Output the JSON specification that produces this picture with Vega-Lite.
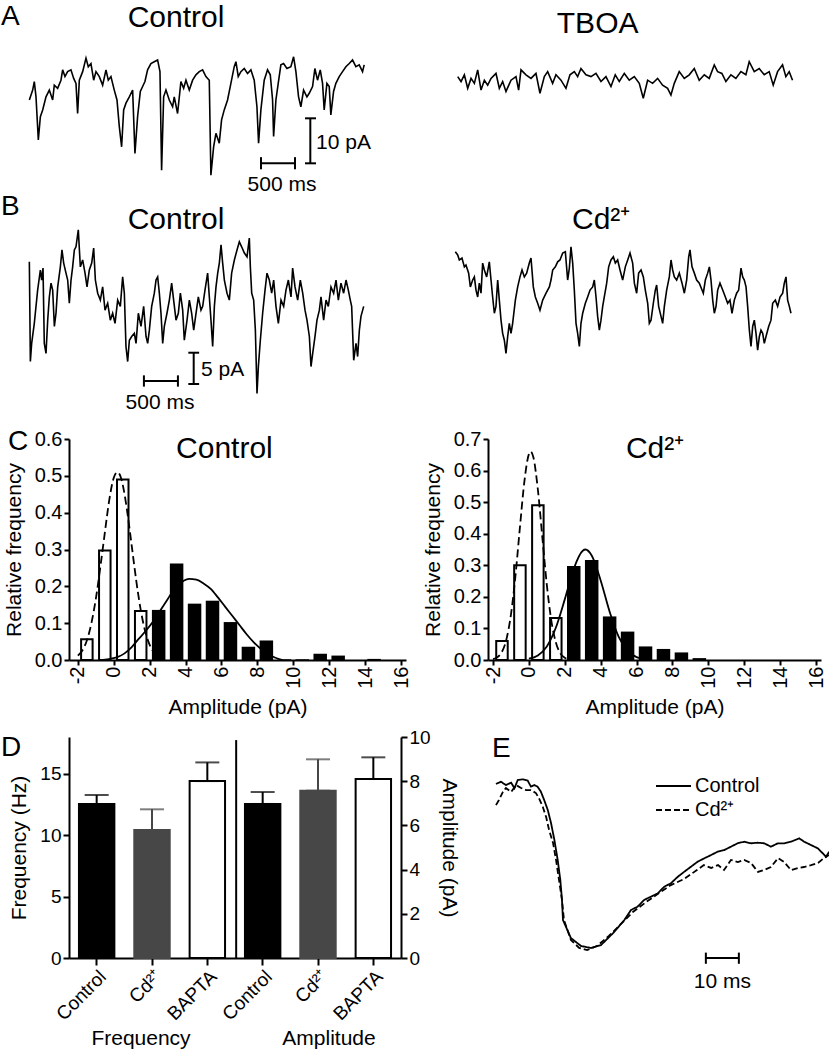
{
  "$schema": "https://vega.github.io/schema/vega-lite/v6.json",
  "padding": 0,
  "background": "white",
  "columns": 4,
  "align": "each",
  "bounds": "flush",
  "spacing": 0,
  "config": {
    "view": {"stroke": null},
    "font": "Liberation Sans",
    "axis": {"domainColor": "black", "domainWidth": 2, "tickColor": "black", "tickWidth": 2, "tickSize": 6, "labelColor": "black", "titleColor": "black", "labelFont": "Liberation Sans", "titleFont": "Liberation Sans", "titleFontWeight": "normal", "grid": false, "labelFontSize": 20, "titleFontSize": 21},
    "text": {"font": "Liberation Sans", "color": "black"},
    "legend": {"orient": "none", "legendX": 662, "legendY": 775.5, "padding": 0, "labelFont": "Liberation Sans", "labelFontSize": 20, "labelColor": "black", "labelOffset": 11, "rowPadding": 3, "symbolType": "M-1.842,0H1.842", "symbolSize": 361, "symbolStrokeWidth": 2, "symbolStrokeColor": "black"}
  },
  "datasets": {
    "a1": [{"t":5,"i":-10.0},{"t":54,"i":-7.8},{"t":78,"i":-5.9},{"t":103,"i":-9.3},{"t":137,"i":-18.9},{"t":167,"i":-13.7},{"t":201,"i":-12.2},{"t":250,"i":-9.3},{"t":299,"i":-7.8},{"t":348,"i":-10.0},{"t":372,"i":-6.7},{"t":421,"i":-7.4},{"t":470,"i":-5.6},{"t":495,"i":-3.3},{"t":529,"i":-4.8},{"t":568,"i":-3.7},{"t":617,"i":-3.3},{"t":657,"i":-5.2},{"t":691,"i":-6.3},{"t":715,"i":-13.0},{"t":740,"i":-5.6},{"t":789,"i":-3.7},{"t":838,"i":-0.7},{"t":872,"i":-2.6},{"t":911,"i":-1.9},{"t":951,"i":-5.6},{"t":985,"i":-3.7},{"t":1034,"i":-4.8},{"t":1083,"i":-6.7},{"t":1132,"i":-3.3},{"t":1166,"i":-5.6},{"t":1205,"i":-4.8},{"t":1254,"i":-7.8},{"t":1294,"i":-10.0},{"t":1328,"i":-15.9},{"t":1362,"i":-20.4},{"t":1392,"i":-12.2},{"t":1426,"i":-10.7},{"t":1475,"i":-9.3},{"t":1524,"i":-7.8},{"t":1558,"i":-21.9},{"t":1597,"i":-13.7},{"t":1637,"i":-8.1},{"t":1671,"i":-7.0},{"t":1705,"i":-5.9},{"t":1744,"i":-3.3},{"t":1793,"i":-1.9},{"t":1842,"i":-1.5},{"t":1891,"i":-1.1},{"t":1926,"i":-3.7},{"t":1950,"i":-25.6},{"t":1980,"i":-9.3},{"t":2014,"i":-7.8},{"t":2063,"i":-10.0},{"t":2112,"i":-11.5},{"t":2136,"i":-9.3},{"t":2185,"i":-13.0},{"t":2234,"i":-5.9},{"t":2274,"i":-7.4},{"t":2308,"i":-5.6},{"t":2357,"i":-7.8},{"t":2406,"i":-5.6},{"t":2455,"i":-4.4},{"t":2504,"i":-3.7},{"t":2553,"i":-3.3},{"t":2602,"i":-4.8},{"t":2651,"i":-5.6},{"t":2675,"i":-26.7},{"t":2715,"i":-20.4},{"t":2749,"i":-17.4},{"t":2798,"i":-19.6},{"t":2832,"i":-14.4},{"t":2871,"i":-12.2},{"t":2920,"i":-10.0},{"t":2969,"i":-6.3},{"t":3018,"i":-2.6},{"t":3043,"i":-1.5},{"t":3077,"i":-4.8},{"t":3116,"i":-3.7},{"t":3165,"i":-3.0},{"t":3214,"i":-4.1},{"t":3263,"i":-3.3},{"t":3312,"i":-5.6},{"t":3352,"i":-11.5},{"t":3376,"i":-19.6},{"t":3410,"i":-12.2},{"t":3459,"i":-5.6},{"t":3508,"i":-3.3},{"t":3548,"i":-4.4},{"t":3582,"i":-10.0},{"t":3597,"i":-18.1},{"t":3631,"i":-10.0},{"t":3665,"i":-6.3},{"t":3704,"i":-2.2},{"t":3744,"i":-1.9},{"t":3793,"i":-3.0},{"t":3851,"i":-2.6},{"t":3891,"i":-0.4},{"t":3925,"i":-3.7},{"t":3964,"i":-9.3},{"t":3998,"i":-11.5},{"t":4038,"i":-7.8},{"t":4087,"i":-9.3},{"t":4121,"i":-8.5},{"t":4170,"i":-7.0},{"t":4204,"i":-3.0},{"t":4243,"i":-5.6},{"t":4283,"i":-3.3},{"t":4317,"i":-6.3},{"t":4341,"i":-12.2},{"t":4381,"i":-6.3},{"t":4415,"i":-7.0},{"t":4439,"i":-13.3},{"t":4479,"i":-8.1},{"t":4513,"i":-6.3},{"t":4562,"i":-4.8},{"t":4611,"i":-3.7},{"t":4660,"i":-2.6},{"t":4709,"i":-1.9},{"t":4758,"i":-1.1},{"t":4807,"i":-2.6},{"t":4856,"i":-2.2},{"t":4905,"i":-3.7},{"t":4929,"i":-2.2}],
    "a2": [{"t":25,"i":-4.8},{"t":74,"i":-5.9},{"t":123,"i":-4.4},{"t":172,"i":-7.4},{"t":221,"i":-5.2},{"t":270,"i":-6.3},{"t":319,"i":-3.3},{"t":368,"i":-7.8},{"t":417,"i":-5.6},{"t":466,"i":-6.7},{"t":515,"i":-5.2},{"t":588,"i":-4.1},{"t":637,"i":-7.4},{"t":686,"i":-5.9},{"t":735,"i":-8.1},{"t":809,"i":-5.6},{"t":882,"i":-4.8},{"t":921,"i":-7.8},{"t":956,"i":-3.3},{"t":1029,"i":-4.4},{"t":1103,"i":-5.2},{"t":1176,"i":-4.1},{"t":1235,"i":-8.5},{"t":1299,"i":-4.8},{"t":1348,"i":-3.7},{"t":1421,"i":-6.3},{"t":1470,"i":-4.4},{"t":1544,"i":-5.6},{"t":1617,"i":-7.4},{"t":1676,"i":-4.4},{"t":1740,"i":-3.7},{"t":1789,"i":-4.8},{"t":1838,"i":-3.0},{"t":1911,"i":-4.4},{"t":1985,"i":-4.8},{"t":2058,"i":-4.1},{"t":2132,"i":-5.9},{"t":2205,"i":-4.8},{"t":2279,"i":-7.0},{"t":2342,"i":-4.4},{"t":2401,"i":-5.9},{"t":2475,"i":-4.1},{"t":2548,"i":-5.6},{"t":2622,"i":-4.8},{"t":2695,"i":-6.3},{"t":2754,"i":-9.6},{"t":2818,"i":-5.6},{"t":2891,"i":-6.3},{"t":2965,"i":-5.2},{"t":3038,"i":-6.7},{"t":3112,"i":-7.4},{"t":3161,"i":-8.9},{"t":3210,"i":-6.3},{"t":3283,"i":-3.7},{"t":3357,"i":-5.2},{"t":3430,"i":-4.4},{"t":3504,"i":-3.0},{"t":3577,"i":-5.6},{"t":3651,"i":-4.4},{"t":3724,"i":-5.2},{"t":3798,"i":-2.2},{"t":3847,"i":-3.7},{"t":3910,"i":-4.1},{"t":3969,"i":-5.9},{"t":4043,"i":-4.4},{"t":4116,"i":-5.2},{"t":4190,"i":-3.7},{"t":4263,"i":-4.4},{"t":4312,"i":-1.5},{"t":4386,"i":-3.7},{"t":4459,"i":-3.0},{"t":4533,"i":-4.4},{"t":4606,"i":-3.7},{"t":4665,"i":-6.7},{"t":4729,"i":-3.7},{"t":4802,"i":-2.2},{"t":4851,"i":-4.8},{"t":4900,"i":-3.7},{"t":4949,"i":-5.6}],
    "b1": [{"t":5,"i":-5.37},{"t":20,"i":-21.3},{"t":39,"i":-18.4},{"t":78,"i":-15.2},{"t":127,"i":-9.9},{"t":167,"i":-6.7},{"t":186,"i":-8.3},{"t":206,"i":-6.4},{"t":225,"i":-18.4},{"t":250,"i":-20.0},{"t":275,"i":-14.7},{"t":299,"i":-11.0},{"t":324,"i":-8.8},{"t":348,"i":-9.9},{"t":373,"i":-15.7},{"t":397,"i":-13.6},{"t":422,"i":-9.4},{"t":461,"i":-6.2},{"t":485,"i":-3.5},{"t":510,"i":-5.6},{"t":544,"i":-7.2},{"t":569,"i":-8.3},{"t":593,"i":-12.0},{"t":618,"i":-8.3},{"t":642,"i":-6.2},{"t":667,"i":-3.5},{"t":691,"i":-3.0},{"t":725,"i":-0.3},{"t":755,"i":-6.2},{"t":789,"i":-5.1},{"t":824,"i":-7.2},{"t":853,"i":-9.4},{"t":887,"i":-6.7},{"t":922,"i":-5.6},{"t":951,"i":-3.2},{"t":976,"i":-8.3},{"t":1010,"i":-10.4},{"t":1049,"i":-11.5},{"t":1083,"i":-9.4},{"t":1118,"i":-13.1},{"t":1157,"i":-12.0},{"t":1196,"i":-14.7},{"t":1230,"i":-13.6},{"t":1265,"i":-15.2},{"t":1304,"i":-11.5},{"t":1343,"i":-12.5},{"t":1377,"i":-7.8},{"t":1402,"i":-10.4},{"t":1426,"i":-18.9},{"t":1451,"i":-21.3},{"t":1476,"i":-17.9},{"t":1510,"i":-17.3},{"t":1549,"i":-16.8},{"t":1574,"i":-18.4},{"t":1608,"i":-13.6},{"t":1647,"i":-15.7},{"t":1686,"i":-12.5},{"t":1721,"i":-17.3},{"t":1745,"i":-18.4},{"t":1770,"i":-16.3},{"t":1804,"i":-12.5},{"t":1843,"i":-10.4},{"t":1868,"i":-8.3},{"t":1892,"i":-7.8},{"t":1917,"i":-10.4},{"t":1941,"i":-13.6},{"t":1966,"i":-18.4},{"t":1990,"i":-15.7},{"t":2029,"i":-13.6},{"t":2064,"i":-11.5},{"t":2098,"i":-8.8},{"t":2127,"i":-11.5},{"t":2162,"i":-14.7},{"t":2196,"i":-13.6},{"t":2226,"i":-10.4},{"t":2260,"i":-13.1},{"t":2284,"i":-17.9},{"t":2324,"i":-14.7},{"t":2358,"i":-11.5},{"t":2392,"i":-13.6},{"t":2422,"i":-16.3},{"t":2456,"i":-13.6},{"t":2490,"i":-11.0},{"t":2529,"i":-13.1},{"t":2554,"i":-12.5},{"t":2588,"i":-9.9},{"t":2627,"i":-7.2},{"t":2652,"i":-11.0},{"t":2676,"i":-14.7},{"t":2701,"i":-18.9},{"t":2726,"i":-12.5},{"t":2750,"i":-9.4},{"t":2775,"i":-7.2},{"t":2799,"i":-5.6},{"t":2824,"i":-2.7},{"t":2848,"i":-5.6},{"t":2873,"i":-8.3},{"t":2912,"i":-10.4},{"t":2946,"i":-11.5},{"t":2980,"i":-7.2},{"t":3020,"i":-5.1},{"t":3059,"i":-3.5},{"t":3093,"i":-2.2},{"t":3127,"i":-3.0},{"t":3167,"i":-4.0},{"t":3206,"i":-4.6},{"t":3240,"i":-1.6},{"t":3255,"i":-6.2},{"t":3275,"i":-10.4},{"t":3304,"i":-11.5},{"t":3329,"i":-16.3},{"t":3353,"i":-26.4},{"t":3373,"i":-22.1},{"t":3402,"i":-17.9},{"t":3436,"i":-13.6},{"t":3471,"i":-9.9},{"t":3500,"i":-7.2},{"t":3534,"i":-8.3},{"t":3569,"i":-10.4},{"t":3598,"i":-8.3},{"t":3632,"i":-12.5},{"t":3667,"i":-15.2},{"t":3706,"i":-11.5},{"t":3745,"i":-12.5},{"t":3779,"i":-9.9},{"t":3814,"i":-8.3},{"t":3853,"i":-11.0},{"t":3877,"i":-6.4},{"t":3912,"i":-9.4},{"t":3951,"i":-11.5},{"t":3990,"i":-8.3},{"t":4025,"i":-10.4},{"t":4059,"i":-13.1},{"t":4088,"i":-14.7},{"t":4123,"i":-17.3},{"t":4147,"i":-22.1},{"t":4172,"i":-20.0},{"t":4206,"i":-17.3},{"t":4235,"i":-14.7},{"t":4270,"i":-13.1},{"t":4294,"i":-11.0},{"t":4333,"i":-14.7},{"t":4368,"i":-11.5},{"t":4402,"i":-12.5},{"t":4441,"i":-9.4},{"t":4480,"i":-10.4},{"t":4515,"i":-8.3},{"t":4549,"i":-11.5},{"t":4588,"i":-8.8},{"t":4627,"i":-10.4},{"t":4662,"i":-8.3},{"t":4696,"i":-9.9},{"t":4725,"i":-11.5},{"t":4745,"i":-12.5},{"t":4775,"i":-21.1},{"t":4809,"i":-18.4},{"t":4833,"i":-20.5},{"t":4858,"i":-16.3},{"t":4882,"i":-14.1},{"t":4907,"i":-13.1},{"t":4922,"i":-12.5}],
    "b2": [{"t":-10,"i":-3.8},{"t":25,"i":-4.3},{"t":49,"i":-5.1},{"t":88,"i":-4.8},{"t":123,"i":-6.2},{"t":147,"i":-5.9},{"t":186,"i":-7.2},{"t":211,"i":-9.4},{"t":245,"i":-8.3},{"t":270,"i":-7.8},{"t":294,"i":-9.9},{"t":319,"i":-11.0},{"t":343,"i":-8.8},{"t":368,"i":-10.4},{"t":392,"i":-5.6},{"t":417,"i":-6.7},{"t":451,"i":-7.8},{"t":490,"i":-5.4},{"t":515,"i":-8.3},{"t":539,"i":-11.0},{"t":564,"i":-13.6},{"t":588,"i":-12.5},{"t":613,"i":-8.3},{"t":637,"i":-11.5},{"t":662,"i":-14.7},{"t":686,"i":-16.8},{"t":711,"i":-17.9},{"t":735,"i":-20.0},{"t":760,"i":-17.3},{"t":784,"i":-15.2},{"t":809,"i":-16.8},{"t":833,"i":-15.2},{"t":873,"i":-11.5},{"t":907,"i":-9.4},{"t":941,"i":-7.8},{"t":971,"i":-6.7},{"t":1005,"i":-7.8},{"t":1039,"i":-7.2},{"t":1078,"i":-5.6},{"t":1103,"i":-4.8},{"t":1137,"i":-9.4},{"t":1167,"i":-11.0},{"t":1201,"i":-12.0},{"t":1235,"i":-13.1},{"t":1275,"i":-11.5},{"t":1324,"i":-10.4},{"t":1373,"i":-9.4},{"t":1397,"i":-8.3},{"t":1422,"i":-6.7},{"t":1461,"i":-6.2},{"t":1495,"i":-5.4},{"t":1529,"i":-5.1},{"t":1569,"i":-4.0},{"t":1608,"i":-3.8},{"t":1642,"i":-8.3},{"t":1667,"i":-6.4},{"t":1691,"i":-3.0},{"t":1716,"i":-5.6},{"t":1740,"i":-9.9},{"t":1765,"i":-15.2},{"t":1789,"i":-16.8},{"t":1814,"i":-18.9},{"t":1838,"i":-15.2},{"t":1863,"i":-13.6},{"t":1902,"i":-12.0},{"t":1936,"i":-11.0},{"t":1971,"i":-9.9},{"t":2010,"i":-9.4},{"t":2034,"i":-8.3},{"t":2059,"i":-11.0},{"t":2083,"i":-14.1},{"t":2108,"i":-16.3},{"t":2132,"i":-14.7},{"t":2157,"i":-12.5},{"t":2181,"i":-11.0},{"t":2216,"i":-8.8},{"t":2245,"i":-6.2},{"t":2279,"i":-5.1},{"t":2314,"i":-4.6},{"t":2343,"i":-5.6},{"t":2377,"i":-5.1},{"t":2412,"i":-6.7},{"t":2451,"i":-8.3},{"t":2490,"i":-6.2},{"t":2525,"i":-5.1},{"t":2559,"i":-4.0},{"t":2598,"i":-5.6},{"t":2623,"i":-8.8},{"t":2657,"i":-10.4},{"t":2686,"i":-7.2},{"t":2721,"i":-6.7},{"t":2755,"i":-7.8},{"t":2784,"i":-9.9},{"t":2819,"i":-12.0},{"t":2843,"i":-15.2},{"t":2868,"i":-14.7},{"t":2902,"i":-12.0},{"t":2931,"i":-9.9},{"t":2951,"i":-9.1},{"t":2980,"i":-12.5},{"t":3015,"i":-14.1},{"t":3039,"i":-15.2},{"t":3064,"i":-12.5},{"t":3098,"i":-9.9},{"t":3137,"i":-7.8},{"t":3162,"i":-5.1},{"t":3186,"i":-6.7},{"t":3211,"i":-7.8},{"t":3245,"i":-8.3},{"t":3284,"i":-7.2},{"t":3324,"i":-8.8},{"t":3358,"i":-10.4},{"t":3392,"i":-8.3},{"t":3422,"i":-4.6},{"t":3441,"i":-3.5},{"t":3471,"i":-6.2},{"t":3505,"i":-7.2},{"t":3539,"i":-8.3},{"t":3578,"i":-8.8},{"t":3618,"i":-9.9},{"t":3637,"i":-10.4},{"t":3667,"i":-8.3},{"t":3701,"i":-7.2},{"t":3726,"i":-6.2},{"t":3750,"i":-8.3},{"t":3775,"i":-11.5},{"t":3799,"i":-13.6},{"t":3824,"i":-12.5},{"t":3848,"i":-9.9},{"t":3882,"i":-8.8},{"t":3922,"i":-9.9},{"t":3961,"i":-11.0},{"t":3995,"i":-12.0},{"t":4029,"i":-11.5},{"t":4059,"i":-13.6},{"t":4093,"i":-11.5},{"t":4127,"i":-10.4},{"t":4157,"i":-9.9},{"t":4191,"i":-6.4},{"t":4216,"i":-7.8},{"t":4240,"i":-8.3},{"t":4265,"i":-9.4},{"t":4289,"i":-12.5},{"t":4314,"i":-16.3},{"t":4338,"i":-18.9},{"t":4363,"i":-15.7},{"t":4387,"i":-14.7},{"t":4412,"i":-16.8},{"t":4436,"i":-19.5},{"t":4461,"i":-17.3},{"t":4485,"i":-16.3},{"t":4510,"i":-16.8},{"t":4534,"i":-18.4},{"t":4559,"i":-17.3},{"t":4598,"i":-15.7},{"t":4632,"i":-14.7},{"t":4657,"i":-12.0},{"t":4696,"i":-11.5},{"t":4730,"i":-12.5},{"t":4765,"i":-11.0},{"t":4804,"i":-10.4},{"t":4828,"i":-8.8},{"t":4853,"i":-7.8},{"t":4877,"i":-11.5},{"t":4902,"i":-12.5},{"t":4926,"i":-13.6}],
    "e": [{"cond":"Control","t":0.6,"i":-0.06},{"cond":"Control","t":2.1,"i":0.08},{"cond":"Control","t":3.6,"i":-0.13},{"cond":"Control","t":5.2,"i":0.02},{"cond":"Control","t":6.2,"i":-0.33},{"cond":"Control","t":7.2,"i":0.19},{"cond":"Control","t":8.7,"i":0.23},{"cond":"Control","t":10.2,"i":0.15},{"cond":"Control","t":11.2,"i":-0.23},{"cond":"Control","t":12.2,"i":-0.13},{"cond":"Control","t":13.2,"i":-0.23},{"cond":"Control","t":14.2,"i":-0.54},{"cond":"Control","t":15.2,"i":-1.06},{"cond":"Control","t":16.3,"i":-1.69},{"cond":"Control","t":17.3,"i":-2.52},{"cond":"Control","t":18.3,"i":-3.56},{"cond":"Control","t":19.3,"i":-4.81},{"cond":"Control","t":20.1,"i":-6.06},{"cond":"Control","t":20.6,"i":-7.31},{"cond":"Control","t":20.9,"i":-8.56},{"cond":"Control","t":23.3,"i":-9.69},{"cond":"Control","t":26.4,"i":-10.19},{"cond":"Control","t":29.4,"i":-10.31},{"cond":"Control","t":32.4,"i":-10.13},{"cond":"Control","t":36.1,"i":-9.38},{"cond":"Control","t":39.5,"i":-8.56},{"cond":"Control","t":41.5,"i":-7.94},{"cond":"Control","t":43.5,"i":-7.73},{"cond":"Control","t":45.5,"i":-7.31},{"cond":"Control","t":47.6,"i":-7.1},{"cond":"Control","t":49.6,"i":-6.9},{"cond":"Control","t":51.6,"i":-6.48},{"cond":"Control","t":53.6,"i":-6.27},{"cond":"Control","t":55.7,"i":-5.86},{"cond":"Control","t":57.7,"i":-5.54},{"cond":"Control","t":59.7,"i":-5.23},{"cond":"Control","t":61.7,"i":-4.92},{"cond":"Control","t":63.7,"i":-4.71},{"cond":"Control","t":65.8,"i":-4.5},{"cond":"Control","t":67.8,"i":-4.29},{"cond":"Control","t":69.8,"i":-4.19},{"cond":"Control","t":71.8,"i":-3.98},{"cond":"Control","t":73.8,"i":-3.77},{"cond":"Control","t":75.8,"i":-3.67},{"cond":"Control","t":77.9,"i":-3.77},{"cond":"Control","t":79.9,"i":-3.73},{"cond":"Control","t":81.9,"i":-3.77},{"cond":"Control","t":83.9,"i":-3.98},{"cond":"Control","t":86.0,"i":-3.77},{"cond":"Control","t":88.0,"i":-3.77},{"cond":"Control","t":90.0,"i":-3.67},{"cond":"Control","t":92.5,"i":-3.46},{"cond":"Control","t":94.0,"i":-3.67},{"cond":"Control","t":96.1,"i":-3.88},{"cond":"Control","t":98.1,"i":-4.08},{"cond":"Control","t":99.6,"i":-4.39},{"cond":"Control","t":100.6,"i":-4.61},{"cond":"Control","t":101.6,"i":-4.29},
      {"cond":"Cd²⁺","t":0.6,"i":-1.38},{"cond":"Cd²⁺","t":1.5,"i":-1.06},{"cond":"Cd²⁺","t":2.7,"i":-0.56},{"cond":"Cd²⁺","t":3.6,"i":-0.31},{"cond":"Cd²⁺","t":5.2,"i":-0.56},{"cond":"Cd²⁺","t":6.7,"i":-0.13},{"cond":"Cd²⁺","t":8.2,"i":-0.31},{"cond":"Cd²⁺","t":9.7,"i":-0.44},{"cond":"Cd²⁺","t":11.2,"i":-0.44},{"cond":"Cd²⁺","t":12.7,"i":-0.63},{"cond":"Cd²⁺","t":13.6,"i":-0.94},{"cond":"Cd²⁺","t":14.8,"i":-1.5},{"cond":"Cd²⁺","t":15.8,"i":-2.13},{"cond":"Cd²⁺","t":16.7,"i":-2.94},{"cond":"Cd²⁺","t":17.9,"i":-3.75},{"cond":"Cd²⁺","t":18.8,"i":-4.81},{"cond":"Cd²⁺","t":19.7,"i":-6.06},{"cond":"Cd²⁺","t":20.6,"i":-7.31},{"cond":"Cd²⁺","t":21.2,"i":-8.56},{"cond":"Cd²⁺","t":23.3,"i":-9.81},{"cond":"Cd²⁺","t":25.8,"i":-10.31},{"cond":"Cd²⁺","t":28.2,"i":-10.44},{"cond":"Cd²⁺","t":31.2,"i":-10.19},{"cond":"Cd²⁺","t":34.8,"i":-9.56},{"cond":"Cd²⁺","t":38.5,"i":-8.81},{"cond":"Cd²⁺","t":42.1,"i":-8.06},{"cond":"Cd²⁺","t":46.1,"i":-7.44},{"cond":"Cd²⁺","t":50.0,"i":-6.88},{"cond":"Cd²⁺","t":53.6,"i":-6.38},{"cond":"Cd²⁺","t":57.6,"i":-6.0},{"cond":"Cd²⁺","t":61.5,"i":-5.44},{"cond":"Cd²⁺","t":63.6,"i":-5.13},{"cond":"Cd²⁺","t":65.8,"i":-5.31},{"cond":"Cd²⁺","t":67.9,"i":-5.13},{"cond":"Cd²⁺","t":69.7,"i":-5.44},{"cond":"Cd²⁺","t":71.8,"i":-4.81},{"cond":"Cd²⁺","t":73.9,"i":-4.94},{"cond":"Cd²⁺","t":75.8,"i":-4.81},{"cond":"Cd²⁺","t":77.9,"i":-5.0},{"cond":"Cd²⁺","t":80.0,"i":-5.56},{"cond":"Cd²⁺","t":81.8,"i":-5.44},{"cond":"Cd²⁺","t":83.9,"i":-5.25},{"cond":"Cd²⁺","t":86.1,"i":-4.69},{"cond":"Cd²⁺","t":87.9,"i":-4.94},{"cond":"Cd²⁺","t":90.0,"i":-5.44},{"cond":"Cd²⁺","t":92.1,"i":-5.31},{"cond":"Cd²⁺","t":93.9,"i":-5.25},{"cond":"Cd²⁺","t":96.1,"i":-5.13},{"cond":"Cd²⁺","t":98.2,"i":-5.0},{"cond":"Cd²⁺","t":100.0,"i":-4.69},{"cond":"Cd²⁺","t":101.5,"i":-4.5}]
  },
  "concat": [
    {"width": 68, "height": 195, "data": {"values": [{}]}, "mark": {"type": "point", "opacity": 0}},
    {
      "width": 337, "height": 195,
      "encoding": {
        "x": {"field": "t", "type": "quantitative", "scale": {"domain": [588.2, 5544.1], "nice": false, "zero": false}, "axis": null},
        "y": {"field": "i", "type": "quantitative", "scale": {"domain": [-31.11, 12.22], "nice": false, "zero": false}, "axis": null}
      },
      "layer": [
        {"data": {"name": "a1"}, "mark": {"type": "line", "color": "black", "strokeWidth": 1.6}},
        {"data": {"values": [{"t":3412,"t2":3912,"i":-24.07,"i2":-24.07},{"t":3412,"t2":3412,"i":-22.7,"i2":-25.4},{"t":3912,"t2":3912,"i":-22.7,"i2":-25.4},{"t":4137,"t2":4137,"i":-14.07,"i2":-24.07},{"t":4059,"t2":4221,"i":-14.07,"i2":-14.07},{"t":4059,"t2":4221,"i":-24.07,"i2":-24.07}]},
         "mark": {"type": "rule", "color": "black", "strokeWidth": 2}, "encoding": {"x2": {"field": "t2"}, "y2": {"field": "i2"}}},
        {"data": {"values": [{"t": -411.8, "i": 6.67, "label": "A"}]}, "mark": {"type": "text", "align": "left", "baseline": "alphabetic", "fontSize": 28}, "encoding": {"text": {"field": "label"}}},
        {"data": {"values": [{"t": 2162, "i": 6.11, "label": "Control"}]}, "mark": {"type": "text", "align": "center", "baseline": "alphabetic", "fontSize": 30}, "encoding": {"text": {"field": "label"}}},
        {"data": {"values": [{"t": 3721, "i": -28.9, "label": "500 ms"}]}, "mark": {"type": "text", "align": "center", "baseline": "middle", "fontSize": 21}, "encoding": {"text": {"field": "label"}}},
        {"data": {"values": [{"t": 4221, "i": -19.6, "label": "10 pA"}]}, "mark": {"type": "text", "align": "left", "baseline": "middle", "fontSize": 21}, "encoding": {"text": {"field": "label"}}}
      ]
    },
    {"width": 82, "height": 195, "data": {"values": [{}]}, "mark": {"type": "point", "opacity": 0}},
    {
      "width": 341, "height": 195,
      "encoding": {
        "x": {"field": "t", "type": "quantitative", "scale": {"domain": [470.6, 5485.3], "nice": false, "zero": false}, "axis": null},
        "y": {"field": "i", "type": "quantitative", "scale": {"domain": [-31.11, 12.22], "nice": false, "zero": false}, "axis": null}
      },
      "layer": [
        {"data": {"name": "a2"}, "mark": {"type": "line", "color": "black", "strokeWidth": 1.6}},
        {"data": {"values": [{"t": 2083, "i": 4.96, "label": "TBOA"}]}, "mark": {"type": "text", "align": "center", "baseline": "alphabetic", "fontSize": 30}, "encoding": {"text": {"field": "label"}}}
      ]
    },
    {"width": 68, "height": 244, "data": {"values": [{}]}, "mark": {"type": "point", "opacity": 0}},
    {
      "width": 337, "height": 244,
      "encoding": {
        "x": {"field": "t", "type": "quantitative", "scale": {"domain": [588.2, 5544.1], "nice": false, "zero": false}, "axis": null},
        "y": {"field": "i", "type": "quantitative", "scale": {"domain": [-33.65, 5.26], "nice": false, "zero": false}, "axis": null}
      },
      "layer": [
        {"data": {"name": "b1"}, "mark": {"type": "line", "color": "black", "strokeWidth": 1.6}},
        {"data": {"values": [{"t":1690,"t2":2190,"i":-24.4,"i2":-24.4},{"t":1690,"t2":1690,"i":-23.5,"i2":-25.3},{"t":2190,"t2":2190,"i":-23.5,"i2":-25.3},{"t":2422,"t2":2422,"i":-19.89,"i2":-24.88},{"t":2343,"t2":2502,"i":-19.89,"i2":-19.89},{"t":2343,"t2":2502,"i":-24.88,"i2":-24.88}]},
         "mark": {"type": "rule", "color": "black", "strokeWidth": 2}, "encoding": {"x2": {"field": "t2"}, "y2": {"field": "i2"}}},
        {"data": {"values": [{"t": -411.8, "i": 2.07, "label": "B"}]}, "mark": {"type": "text", "align": "left", "baseline": "alphabetic", "fontSize": 28}, "encoding": {"text": {"field": "label"}}},
        {"data": {"values": [{"t": 2162, "i": -0.2, "label": "Control"}]}, "mark": {"type": "text", "align": "center", "baseline": "alphabetic", "fontSize": 30}, "encoding": {"text": {"field": "label"}}},
        {"data": {"values": [{"t": 1926, "i": -27.9, "label": "500 ms"}]}, "mark": {"type": "text", "align": "center", "baseline": "middle", "fontSize": 21}, "encoding": {"text": {"field": "label"}}},
        {"data": {"values": [{"t": 2529, "i": -22.6, "label": "5 pA"}]}, "mark": {"type": "text", "align": "left", "baseline": "middle", "fontSize": 21}, "encoding": {"text": {"field": "label"}}}
      ]
    },
    {"width": 82, "height": 244, "data": {"values": [{}]}, "mark": {"type": "point", "opacity": 0}},
    {
      "width": 341, "height": 244,
      "encoding": {
        "x": {"field": "t", "type": "quantitative", "scale": {"domain": [470.6, 5485.3], "nice": false, "zero": false}, "axis": null},
        "y": {"field": "i", "type": "quantitative", "scale": {"domain": [-33.65, 5.26], "nice": false, "zero": false}, "axis": null}
      },
      "layer": [
        {"data": {"name": "b2"}, "mark": {"type": "line", "color": "black", "strokeWidth": 1.6}},
        {"data": {"values": [{"t": 1706, "i": -0.2, "label": "Cd²⁺"}]}, "mark": {"type": "text", "align": "left", "baseline": "alphabetic", "fontSize": 30}, "encoding": {"text": {"field": "label"}}}
      ]
    },
    {"width": 68, "height": 221, "data": {"values": [{}]}, "mark": {"type": "point", "opacity": 0}},
    {
      "width": 337, "height": 221,
      "encoding": {
        "x": {"field": "a", "type": "quantitative", "scale": {"domain": [-2.216, 16], "nice": false, "zero": false},
              "axis": {"values": [-2,0,2,4,6,8,10,12,14,16], "labelAngle": -90, "labelExpr": "replace(datum.label, '−', '-')", "title": "Amplitude (pA)", "tickSize": 5, "labelPadding": 1, "titlePadding": 8}},
        "y": {"field": "f", "type": "quantitative", "scale": {"domain": [0, 0.6], "nice": false, "zero": false},
              "axis": {"values": [0,0.1,0.2,0.3,0.4,0.5,0.6], "format": ".1f", "title": "Relative frequency", "tickSize": 5, "labelPadding": 2, "titlePadding": 10}}
      },
      "layer": [
        {"data": {"values": [{"a":-1.5,"f":0.056},{"a":-0.5,"f":0.297},{"a":0.5,"f":0.49},{"a":1.5,"f":0.133}]},
         "mark": {"type": "bar", "orient": "vertical", "width": 11.5, "fill": "white", "stroke": "black", "strokeWidth": 2}},
        {"data": {"values": [{"a":2.5,"f":0.136},{"a":3.5,"f":0.262},{"a":4.5,"f":0.153},{"a":5.5,"f":0.161},{"a":6.5,"f":0.103},{"a":7.5,"f":0.036},{"a":8.5,"f":0.053},{"a":9.5,"f":0.002},{"a":10.5,"f":0.002},{"a":11.5,"f":0.017},{"a":12.5,"f":0.012},{"a":14.5,"f":0.003}]},
         "mark": {"type": "bar", "orient": "vertical", "width": 13.5, "fill": "black"}},
        {"data": {"values": [{"a":-2.0,"f":0.012},{"a":-1.75,"f":0.026},{"a":-1.5,"f":0.053},{"a":-1.25,"f":0.099},{"a":-1.0,"f":0.166},{"a":-0.75,"f":0.252},{"a":-0.5,"f":0.345},{"a":-0.25,"f":0.435},{"a":0.0,"f":0.495},{"a":0.2,"f":0.51},{"a":0.4,"f":0.495},{"a":0.6,"f":0.45},{"a":0.8,"f":0.385},{"a":1.0,"f":0.31},{"a":1.25,"f":0.216},{"a":1.5,"f":0.136},{"a":1.75,"f":0.078},{"a":2.0,"f":0.041},{"a":2.25,"f":0.019},{"a":2.5,"f":0.008},{"a":2.75,"f":0.003}]},
         "mark": {"type": "line", "color": "black", "strokeWidth": 1.8, "strokeDash": [8, 4], "interpolate": "monotone"}},
        {"data": {"values": [{"a":-0.6,"f":0.0},{"a":-0.2,"f":0.003},{"a":0.2,"f":0.008},{"a":0.6,"f":0.018},{"a":1.0,"f":0.035},{"a":1.4,"f":0.058},{"a":1.8,"f":0.08},{"a":2.2,"f":0.105},{"a":2.6,"f":0.135},{"a":3.0,"f":0.165},{"a":3.4,"f":0.195},{"a":3.8,"f":0.212},{"a":4.2,"f":0.22},{"a":4.6,"f":0.218},{"a":5.0,"f":0.208},{"a":5.4,"f":0.193},{"a":5.8,"f":0.17},{"a":6.2,"f":0.145},{"a":6.6,"f":0.12},{"a":7.0,"f":0.095},{"a":7.4,"f":0.07},{"a":7.8,"f":0.048},{"a":8.2,"f":0.03},{"a":8.6,"f":0.016},{"a":9.0,"f":0.006},{"a":9.4,"f":0.0}]},
         "mark": {"type": "line", "color": "black", "strokeWidth": 1.8, "interpolate": "monotone"}},
        {"data": {"values": [{"a": -5.892, "f": 0.57, "label": "C"}]}, "mark": {"type": "text", "align": "left", "baseline": "alphabetic", "fontSize": 28}, "encoding": {"text": {"field": "label"}}},
        {"data": {"values": [{"a": 6.162, "f": 0.548, "label": "Control"}]}, "mark": {"type": "text", "align": "center", "baseline": "alphabetic", "fontSize": 30}, "encoding": {"text": {"field": "label"}}}
      ]
    },
    {"width": 82, "height": 221, "data": {"values": [{}]}, "mark": {"type": "point", "opacity": 0}},
    {
      "width": 333, "height": 221,
      "encoding": {
        "x": {"field": "a", "type": "quantitative", "scale": {"domain": [-2, 16], "nice": false, "zero": false},
              "axis": {"values": [-2,0,2,4,6,8,10,12,14,16], "labelAngle": -90, "labelExpr": "replace(datum.label, '−', '-')", "title": "Amplitude (pA)", "tickSize": 5, "labelPadding": 1, "titlePadding": 8}},
        "y": {"field": "f", "type": "quantitative", "scale": {"domain": [0, 0.7], "nice": false, "zero": false},
              "axis": {"values": [0,0.1,0.2,0.3,0.4,0.5,0.6,0.7], "format": ".1f", "title": "Relative frequency", "tickSize": 5, "labelPadding": 2, "titlePadding": 10}}
      },
      "layer": [
        {"data": {"values": [{"a":-1.5,"f":0.06},{"a":-0.5,"f":0.3},{"a":0.5,"f":0.49},{"a":1.5,"f":0.133}]},
         "mark": {"type": "bar", "orient": "vertical", "width": 11.5, "fill": "white", "stroke": "black", "strokeWidth": 2}},
        {"data": {"values": [{"a":2.5,"f":0.298},{"a":3.5,"f":0.317},{"a":4.5,"f":0.138},{"a":5.5,"f":0.09},{"a":6.5,"f":0.043},{"a":7.5,"f":0.035},{"a":8.5,"f":0.024},{"a":9.5,"f":0.006}]},
         "mark": {"type": "bar", "orient": "vertical", "width": 13.5, "fill": "black"}},
        {"data": {"values": [{"a":-2.0,"f":0.003},{"a":-1.75,"f":0.009},{"a":-1.5,"f":0.026},{"a":-1.25,"f":0.066},{"a":-1.0,"f":0.144},{"a":-0.75,"f":0.266},{"a":-0.5,"f":0.42},{"a":-0.25,"f":0.566},{"a":0.0,"f":0.652},{"a":0.1,"f":0.66},{"a":0.25,"f":0.642},{"a":0.5,"f":0.54},{"a":0.75,"f":0.388},{"a":1.0,"f":0.238},{"a":1.25,"f":0.125},{"a":1.5,"f":0.056},{"a":1.75,"f":0.021},{"a":2.0,"f":0.007},{"a":2.25,"f":0.002}]},
         "mark": {"type": "line", "color": "black", "strokeWidth": 1.8, "strokeDash": [8, 4], "interpolate": "monotone"}},
        {"data": {"values": [{"a":0.0,"f":0.004},{"a":0.5,"f":0.0145},{"a":1.0,"f":0.043},{"a":1.5,"f":0.102},{"a":2.0,"f":0.192},{"a":2.5,"f":0.289},{"a":3.0,"f":0.346},{"a":3.15,"f":0.35},{"a":3.5,"f":0.331},{"a":4.0,"f":0.252},{"a":4.5,"f":0.153},{"a":5.0,"f":0.074},{"a":5.5,"f":0.029},{"a":6.0,"f":0.009},{"a":6.5,"f":0.002}]},
         "mark": {"type": "line", "color": "black", "strokeWidth": 1.8, "interpolate": "monotone"}},
        {"data": {"values": [{"a": 5.405, "f": 0.64, "label": "Cd²⁺"}]}, "mark": {"type": "text", "align": "left", "baseline": "alphabetic", "fontSize": 30}, "encoding": {"text": {"field": "label"}}}
      ]
    },
    {"width": 68, "height": 77, "data": {"values": [{}]}, "mark": {"type": "point", "opacity": 0}},
    {"width": 1, "height": 77, "data": {"values": [{}]}, "mark": {"type": "point", "opacity": 0}},
    {"width": 1, "height": 77, "data": {"values": [{}]}, "mark": {"type": "point", "opacity": 0}},
    {"width": 1, "height": 77, "data": {"values": [{}]}, "mark": {"type": "point", "opacity": 0}},
    {"width": 68, "height": 221, "data": {"values": [{}]}, "mark": {"type": "point", "opacity": 0}},
    {
      "width": 332, "height": 221,
      "encoding": {
        "x": {"field": "k", "type": "nominal", "scale": {"domain": ["fC","fCd","fB","aC","aCd","aB"], "paddingInner": 0.36, "paddingOuter": 0.18},
              "axis": {"title": null, "labelAngle": -45, "labelFontSize": 19, "tickSize": 7, "labelPadding": 2,
                       "labelExpr": "(datum.value == 'fC' || datum.value == 'aC') ? 'Control' : ((datum.value == 'fCd' || datum.value == 'aCd') ? 'Cd²⁺' : 'BAPTA')"}}
      },
      "layer": [
        {
          "encoding": {"y": {"field": "v", "type": "quantitative", "scale": {"domain": [0, 18], "nice": false, "zero": true},
                             "axis": {"orient": "left", "values": [0,5,10,15], "title": "Frequency (Hz)", "labelFontSize": 19, "tickSize": 6, "labelPadding": 2, "titlePadding": 10}}},
          "layer": [
            {"data": {"values": [{"k":"fC","cond":"Control","v":12.54,"hi":13.27},{"k":"fCd","cond":"Cd","v":10.42,"hi":12.11},{"k":"fB","cond":"BAPTA","v":14.41,"hi":15.93}]},
             "layer": [
               {"mark": {"type": "bar", "strokeWidth": 2},
                "encoding": {"fill": {"field": "cond", "type": "nominal", "scale": {"domain": ["Control","Cd","BAPTA"], "range": ["#000000","#474747","#ffffff"]}, "legend": null},
                             "stroke": {"field": "cond", "type": "nominal", "scale": {"domain": ["Control","Cd","BAPTA"], "range": ["#000000","#474747","#000000"]}, "legend": null}}},
               {"mark": {"type": "errorbar", "ticks": {"size": 24, "thickness": 2}, "rule": {"strokeWidth": 2}},
                "encoding": {"y2": {"field": "hi"}, "color": {"field": "cond", "type": "nominal", "scale": {"domain": ["Control","Cd","BAPTA"], "range": ["#000000","#474747","#000000"]}, "legend": null}}}
             ]},
            {"data": {"values": [{"k": "aC", "v": 0, "v2": 17.75}]}, "mark": {"type": "rule", "color": "black", "strokeWidth": 2, "xOffset": -26.5},
             "encoding": {"y2": {"field": "v2"}}},
            {"data": {"values": [{"k": "fCd", "v": -7.09, "lab": "Frequency"}]}, "mark": {"type": "text", "fontSize": 21, "align": "center", "baseline": "alphabetic", "dx": -11},
             "encoding": {"text": {"field": "lab"}}},
            {"data": {"values": [{"k": "aCd", "v": -7.09, "lab": "Amplitude"}]}, "mark": {"type": "text", "fontSize": 21, "align": "center", "baseline": "alphabetic", "dx": 11},
             "encoding": {"text": {"field": "lab"}}},
            {"data": {"values": [{"k": "fC", "v": 16.45, "lab": "D"}]}, "mark": {"type": "text", "fontSize": 28, "align": "left", "baseline": "alphabetic", "dx": -95.7},
             "encoding": {"text": {"field": "lab"}}}
          ]
        },
        {
          "data": {"values": [{"k":"aC","cond":"Control","v":6.97,"hi":7.51},{"k":"aCd","cond":"Cd","v":7.57,"hi":8.99},{"k":"aB","cond":"BAPTA","v":8.1,"hi":9.08}]},
          "encoding": {"y": {"field": "v", "type": "quantitative", "scale": {"domain": [0, 10], "nice": false, "zero": true},
                             "axis": {"orient": "right", "values": [0,2,4,6,8,10], "title": "Amplitude (pA)", "labelFontSize": 19, "tickSize": 6, "labelPadding": 2, "titlePadding": 8}}},
          "layer": [
            {"mark": {"type": "bar", "strokeWidth": 2},
             "encoding": {"fill": {"field": "cond", "type": "nominal", "legend": null}, "stroke": {"field": "cond", "type": "nominal", "legend": null}}},
            {"mark": {"type": "errorbar", "ticks": {"size": 24, "thickness": 2}, "rule": {"strokeWidth": 2}},
             "encoding": {"y2": {"field": "hi"}, "color": {"field": "cond", "type": "nominal", "legend": null}}}
          ]
        }
      ],
      "resolve": {"scale": {"y": "independent"}}
    },
    {"width": 82, "height": 221, "data": {"values": [{}]}, "mark": {"type": "point", "opacity": 0}},
    {
      "width": 341, "height": 221,
      "encoding": {
        "x": {"field": "t", "type": "quantitative", "scale": {"domain": [-1.818, 101.515], "nice": false, "zero": false}, "axis": null},
        "y": {"field": "i", "type": "quantitative", "scale": {"domain": [-10.9375, 2.875], "nice": false, "zero": false}, "axis": null}
      },
      "layer": [
        {"data": {"name": "e"}, "mark": {"type": "line", "color": "black", "strokeWidth": 1.8},
         "encoding": {"strokeDash": {"field": "cond", "type": "nominal", "scale": {"domain": ["Control", "Cd²⁺"], "range": [[1, 0], [6, 3]]}, "legend": {"title": null}}}},
        {"data": {"values": [{"t":64.2,"t2":74.2,"i":-10.94,"i2":-10.94},{"t":64.2,"t2":64.2,"i":-10.6,"i2":-11.3},{"t":74.2,"t2":74.2,"i":-10.6,"i2":-11.3}]},
         "mark": {"type": "rule", "color": "black", "strokeWidth": 2}, "encoding": {"x2": {"field": "t2"}, "y2": {"field": "i2"}}},
        {"data": {"values": [{"t": -0.6, "i": 1.64, "label": "E"}]}, "mark": {"type": "text", "align": "left", "baseline": "alphabetic", "fontSize": 28}, "encoding": {"text": {"field": "label"}}},
        {"data": {"values": [{"t": 69.2, "i": -12.44, "label": "10 ms"}]}, "mark": {"type": "text", "align": "center", "baseline": "middle", "fontSize": 21}, "encoding": {"text": {"field": "label"}}}
      ]
    }
  ]
}
